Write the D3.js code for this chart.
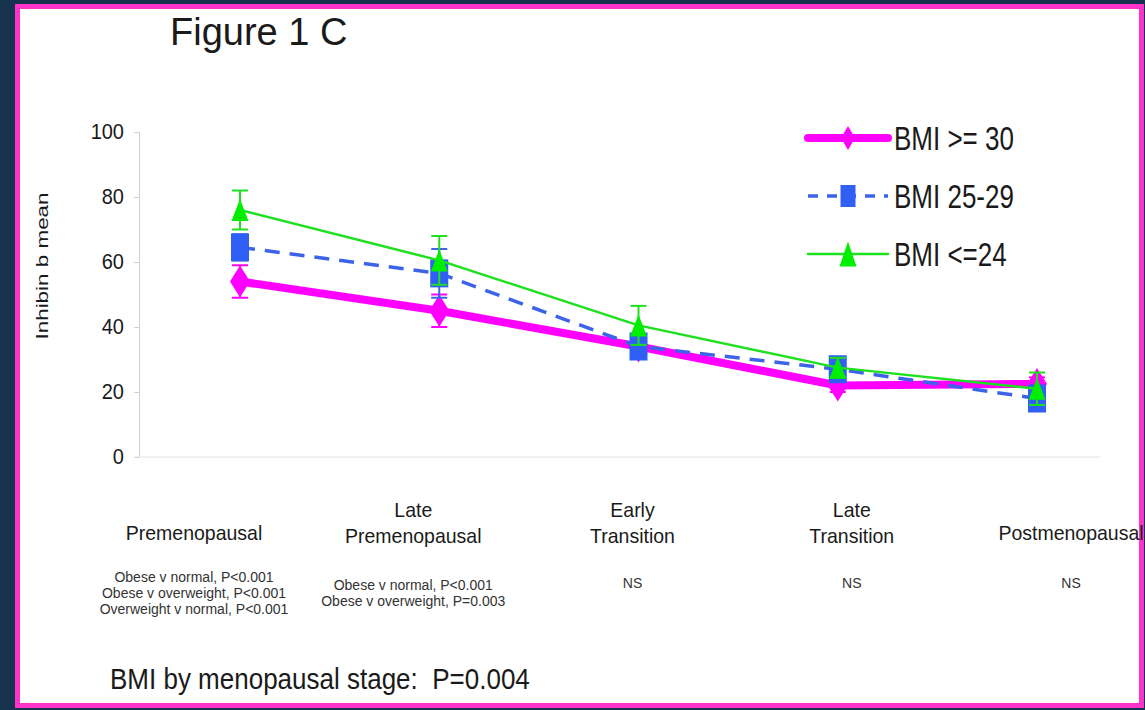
<!DOCTYPE html>
<html>
<head>
<meta charset="utf-8">
<script src="https://cdn.jsdelivr.net/npm/d3@7"></script>
<style>
  body { margin: 0; background: #17324d; }
  svg text { font-family: "Liberation Sans", Arial, sans-serif; fill: #1a1a1a; white-space: pre; }
</style>
</head>
<body>
<div id="chart"></div>
<script>
// menopausal stages (x categories)
var stages = ["Premenopausal", "Late Premenopausal", "Early Transition", "Late Transition", "Postmenopausal"];
var stageLines = [["Premenopausal"], ["Late", "Premenopausal"], ["Early", "Transition"], ["Late", "Transition"], ["Postmenopausal"]];
var stageStats = [
  ["Obese v normal, P<0.001", "Obese v overweight, P<0.001", "Overweight v normal, P<0.001"],
  ["Obese v normal, P<0.001", "Obese v overweight, P=0.003"],
  ["NS"], ["NS"], ["NS"]
];

var seriesNames = ["BMI >= 30", "BMI 25-29", "BMI <=24"];
// inhibin b means and error bar half widths
var obeseMean = [54, 45, 34, 22, 22.5];
var obeseErr = [5, 5, 2, 2, 2];
var overMean = [64.5, 56.5, 34, 27, 18];
var overErr = [4, 7.5, 2, 2, 2];
var normalMean = [76, 60.5, 40.5, 27.5, 21];
var normalErr = [6, 7.5, 6, 3, 5];

var yTicks = [0, 20, 40, 60, 80, 100];

var W = 1145, H = 710;
var svg = d3.select("#chart").append("svg")
  .attr("width", W).attr("height", H);

// background + magenta frame
svg.append("rect").attr("width", W).attr("height", H).attr("fill", "#17324d");
svg.append("rect")
  .attr("x", 17.5).attr("y", 6.5).attr("width", 1124).attr("height", 699)
  .attr("fill", "#fff").attr("stroke", "#ff33cc").attr("stroke-width", 5);

function txt(parent, x, y, s, size, anchor, sy) {
  return parent.append("text")
    .attr("transform", "translate(" + x + "," + y + ") scale(1," + (sy || 1) + ")")
    .attr("text-anchor", anchor || "start")
    .style("font-size", size + "px")
    .text(s);
}

var x = d3.scalePoint().domain(stages).range([240, 1037]);
var y = d3.scaleLinear().domain([0, 100]).range([457, 132]);
var xLab = d3.scalePoint().domain(stages).range([194, 1071]);

// title
txt(svg, 170, 45, "Figure 1 C", 38, "start", 1.0);

// axes (faint)
var axisG = svg.append("g").attr("transform", "translate(139,0)");
axisG.call(d3.axisLeft(y).tickValues(yTicks).tickSize(5).tickFormat(""));
axisG.select(".domain").attr("stroke", "#cfcfcf");
axisG.selectAll(".tick line").attr("stroke", "#cfcfcf");
svg.append("line").attr("x1", 134).attr("x2", 1100)
  .attr("y1", y(0)).attr("y2", y(0)).attr("stroke", "#e4e4e4");

yTicks.forEach(function(t) {
  txt(svg, 124, y(t) + 7, t, 20, "end", 1.1);
});

svg.append("text")
  .attr("transform", "translate(48,266) rotate(-90) scale(1.32,1)")
  .attr("text-anchor", "middle")
  .style("font-size", "17px")
  .text("Inhibin b mean");

// category labels and stats
stages.forEach(function(s, i) {
  var cx = xLab(s);
  var lines = stageLines[i];
  lines.forEach(function(l, j) {
    var yy = lines.length == 2 ? 517 + j * 26 : 540;
    txt(svg, cx, yy, l, 19.5, "middle", 1.08);
  });
  var st = stageStats[i];
  st.forEach(function(l, j) {
    var y0 = st.length == 3 ? 582 : (st.length == 2 ? 590 : 588);
    txt(svg, cx, y0 + j * 16, l, 14, "middle", 1.0).style("fill", "#333");
  });
});

txt(svg, 110, 689, "BMI by menopausal stage:  P=0.004", 26, "start", 1.1);

// series
var series = [
  {name: seriesNames[0], mean: obeseMean, err: obeseErr, color: "#ff00ff", width: 8, dash: null, marker: "diamond"},
  {name: seriesNames[1], mean: overMean, err: overErr, color: "#3d63e8", width: 3.5, dash: "15,10", marker: "square"},
  {name: seriesNames[2], mean: normalMean, err: normalErr, color: "#1ee01e", width: 2.5, dash: null, marker: "triangle"}
];
var markFill = {diamond: "#ff00ff", square: "#2f5ff5", triangle: "#00ee00"};

function marker(g, type, cx, cy, big) {
  var k = big ? 1 : 0.8;
  if (type == "diamond") {
    var w = (big ? 10 : 7), h = 15 * k + (big ? 1 : 0);
    g.append("path").attr("d", "M" + cx + "," + (cy - h) + "L" + (cx + w) + "," + cy + "L" + cx + "," + (cy + h) + "L" + (cx - w) + "," + cy + "Z")
      .attr("fill", markFill.diamond);
  } else if (type == "square") {
    var w2 = big ? 9 : 7.5, h2 = big ? 14 : 11;
    g.append("rect").attr("x", cx - w2).attr("y", cy - h2).attr("width", 2 * w2).attr("height", 2 * h2)
      .attr("fill", markFill.square);
  } else {
    var w3 = 8.5, h3 = big ? 11 : 12.5;
    g.append("path").attr("d", "M" + cx + "," + (cy - h3) + "L" + (cx + w3) + "," + (cy + h3) + "L" + (cx - w3) + "," + (cy + h3) + "Z")
      .attr("fill", markFill.triangle);
  }
}

var line = d3.line().x(function(d, i) { return x(stages[i]); }).y(function(d) { return y(d); });

series.forEach(function(s) {
  var g = svg.append("g");
  g.append("path").datum(s.mean).attr("d", line)
    .attr("fill", "none").attr("stroke", s.color)
    .attr("stroke-width", s.width).attr("stroke-dasharray", s.dash)
    .attr("stroke-linejoin", "round");
  s.mean.forEach(function(v, i) {
    var cx = x(stages[i]);
    var top = y(v + s.err[i]), bot = y(v - s.err[i]);
    g.append("line").attr("x1", cx).attr("x2", cx).attr("y1", top).attr("y2", bot)
      .attr("stroke", s.color).attr("stroke-width", 2);
    [top, bot].forEach(function(yy) {
      g.append("line").attr("x1", cx - 8).attr("x2", cx + 8).attr("y1", yy).attr("y2", yy)
        .attr("stroke", s.color).attr("stroke-width", 2);
    });
    marker(g, s.marker, cx, y(v), true);
  });
});

// legend
var leg = svg.append("g");
series.forEach(function(s, i) {
  var ly = 138 + i * 58;
  leg.append("line").attr("x1", 808).attr("x2", 888).attr("y1", ly).attr("y2", ly)
    .attr("stroke", s.color).attr("stroke-width", s.width)
    .attr("stroke-dasharray", s.dash ? "10,9" : null).attr("stroke-linecap", s.dash ? "butt" : "round");
  marker(leg, s.marker, 848, ly, false);
  txt(leg, 894, ly + 12, s.name, 26, "start", 1.3);
});
</script>
</body>
</html>
